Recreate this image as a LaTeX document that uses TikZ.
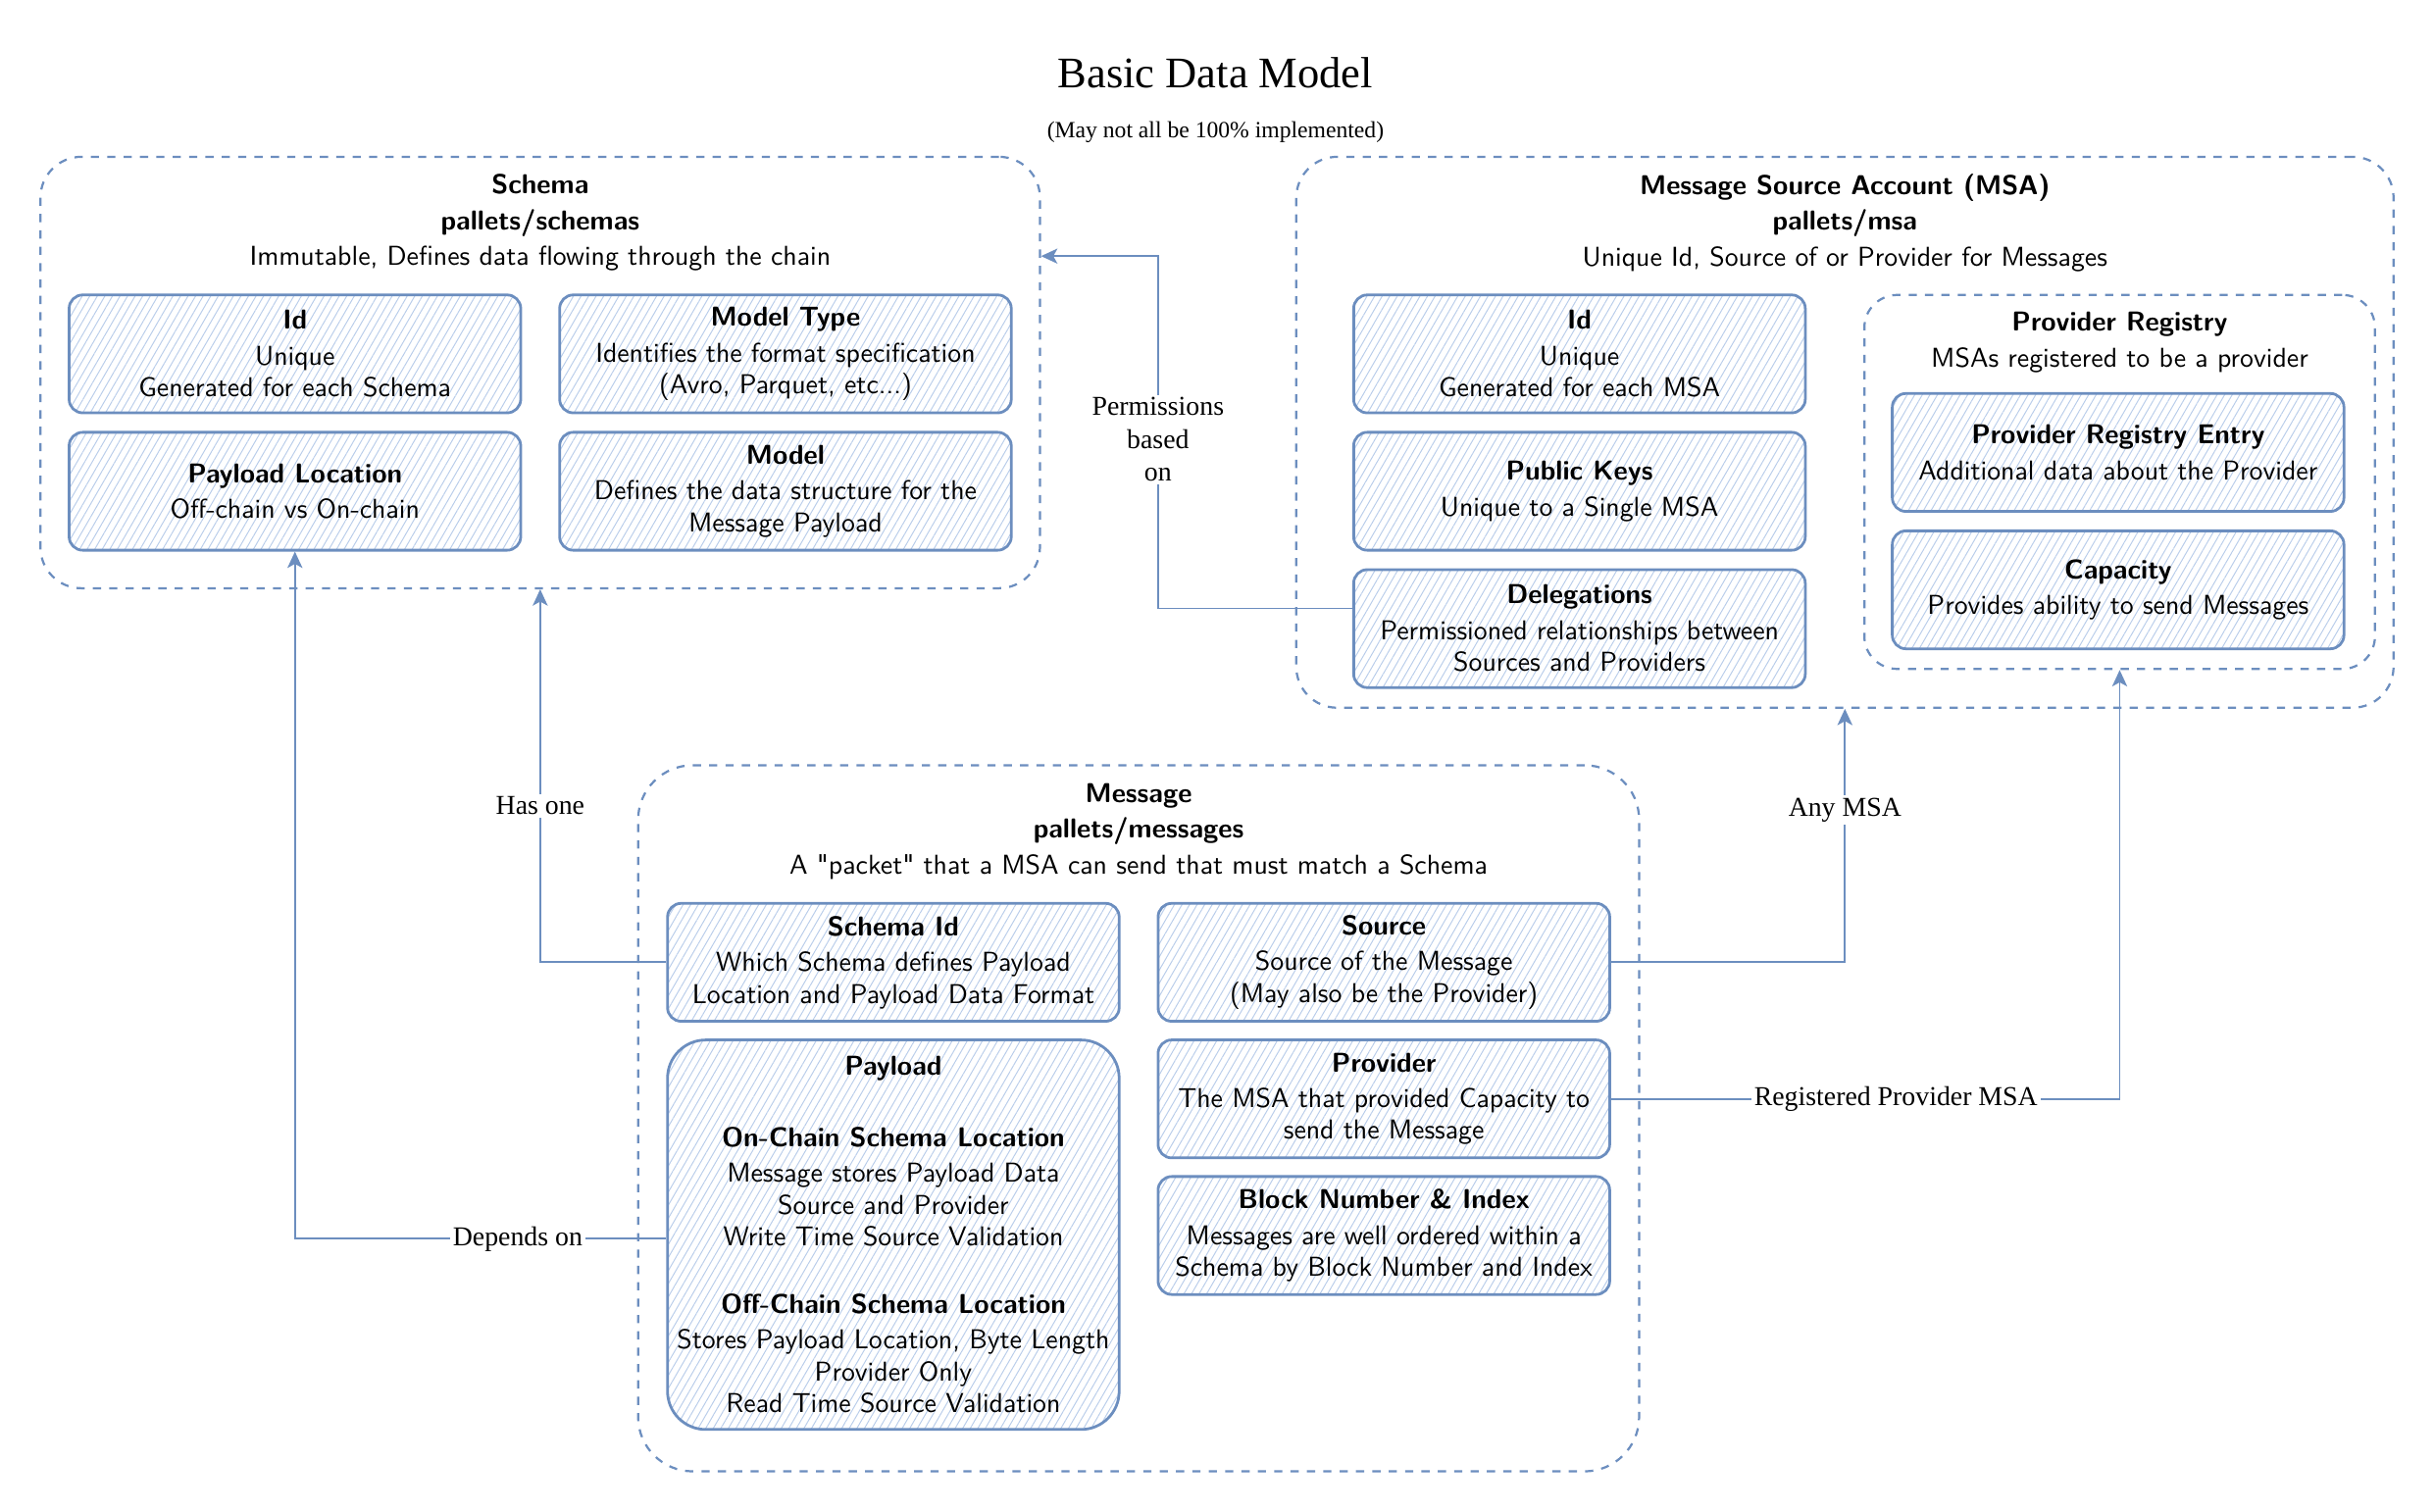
\documentclass[tikz,border=0pt]{standalone}
\usepackage{fontspec}
\setmainfont{Liberation Serif}
\usepackage{tikz}
\usetikzlibrary{arrows.meta,patterns.meta,positioning,calc}
\definecolor{drawblue}{HTML}{6C8EBF}
\definecolor{hatchblue}{HTML}{B9CDEA}

\begin{document}
\begin{tikzpicture}[x=0.02cm,y=-0.02cm,
    card/.style={draw=drawblue,line width=1pt,rounded corners=5pt,
      pattern={Lines[angle=60,distance=2.4pt,line width=0.35pt]},pattern color=hatchblue,
      minimum width=5.82cm,minimum height=1.52cm,inner sep=0pt,align=center,
      font=\sffamily\fontsize{10}{11.7}\selectfont},
    group/.style={draw=drawblue,dashed,line width=0.8pt,rounded corners=15pt,inner sep=0pt},
    head/.style={align=center,font=\sffamily\fontsize{10}{11.7}\selectfont},
    conn/.style={draw=drawblue,line width=0.7pt,-{Stealth[length=6pt,width=5.5pt,inset=1.5pt]}},
    lbl/.style={fill=white,inner sep=1pt,align=center,font=\fontsize{10}{12}\selectfont}]
  \useasboundingbox (0,0) rectangle (1568,974);

  \node (title) at (783,47) {\fontsize{16}{19}\selectfont Basic Data Model};
  \node (subtitle) at (783,85) {\fontsize{8.5}{10}\selectfont (May not all be 100\% implemented)};

  % Schema pallet
  \node[group,minimum width=12.88cm,minimum height=5.56cm] (schema) at (348,240) {};
  \node[head] (schemahead) at (348,143.5) {\textbf{Schema}\\[1.4pt]\textbf{pallets/schemas}\\[1.4pt]Immutable, Defines data flowing through the chain};
  \node[card] (sid) at (190,228) {\textbf{Id}\\[1.4pt]Unique\\Generated for each Schema};
  \node[card] (mtype) at (506,228) {\textbf{Model Type}\\[1.4pt]Identifies the format specification\\(Avro, Parquet, etc...)};
  \node[card] (payloc) at (190,316.5) {\textbf{Payload Location}\\[1.4pt]Off-chain vs On-chain};
  \node[card] (model) at (506,316.5) {\textbf{Model}\\[1.4pt]Defines the data structure for the\\Message Payload};

  % MSA pallet
  \node[group,minimum width=14.14cm,minimum height=7.1cm] (msa) at (1188.5,278.5) {};
  \node[head] (msahead) at (1188.5,143.5) {\textbf{Message Source Account (MSA)}\\[1.4pt]\textbf{pallets/msa}\\[1.4pt]Unique Id, Source of or Provider for Messages};
  \node[card] (mid) at (1017.5,228) {\textbf{Id}\\[1.4pt]Unique\\Generated for each MSA};
  \node[card] (pkeys) at (1017.5,316.5) {\textbf{Public Keys}\\[1.4pt]Unique to a Single MSA};
  \node[card] (deleg) at (1017.5,405) {\textbf{Delegations}\\[1.4pt]Permissioned relationships between\\Sources and Providers};
  \node[group,rounded corners=12pt,minimum width=6.58cm,minimum height=4.82cm] (provreg) at (1365.5,310.5) {};
  \node[head] (provreghead) at (1365.5,220.5) {\textbf{Provider Registry}\\[1.4pt]MSAs registered to be a provider};
  \node[card] (preentry) at (1364.5,291.5) {\textbf{Provider Registry Entry}\\[1.4pt]Additional data about the Provider};
  \node[card] (capacity) at (1364.5,380) {\textbf{Capacity}\\[1.4pt]Provides ability to send Messages};

  % Message pallet
  \node[group,rounded corners=20pt,minimum width=12.9cm,minimum height=9.1cm] (msg) at (733.5,720.5) {};
  \node[head] (msghead) at (733.5,535.5) {\textbf{Message}\\[1.4pt]\textbf{pallets/messages}\\[1.4pt]A \textquotedbl packet\textquotedbl{} that a MSA can send that must match a Schema};
  \node[card] (schemaid) at (575.5,620) {\textbf{Schema Id}\\[1.4pt]Which Schema defines Payload\\Location and Payload Data Format};
  \node[card] (source) at (891.5,620) {\textbf{Source}\\[1.4pt]Source of the Message\\(May also be the Provider)};
  \node[card,rounded corners=14pt,minimum height=5.02cm] (payload) at (575.5,795.5) {\textbf{Payload}\\[14.5pt]\textbf{On-Chain Schema Location}\\[1.4pt]Message stores Payload Data\\Source and Provider\\Write Time Source Validation\\[12.8pt]\textbf{Off-Chain Schema Location}\\[1.4pt]Stores Payload Location, Byte Length\\Provider Only\\Read Time Source Validation};
  \node[card] (provider) at (891.5,708) {\textbf{Provider}\\[1.4pt]The MSA that provided Capacity to\\send the Message};
  \node[card] (blocknum) at (891.5,796) {\textbf{Block Number \& Index}\\[1.4pt]Messages are well ordered within a\\Schema by Block Number and Index};

  % links
  \coordinate (permbend) at (746,165);
  \coordinate (schemain) at (schema.east |- permbend);
  \draw[conn] (schemaid.west) -| node[lbl,pos=0.71]{Has one} (schema.south);
  \draw[conn] ([yshift=-1.5pt]payload.west) -| node[lbl,pos=0.2]{Depends on} (payloc.south);
  \draw[conn] ([yshift=7.4pt]deleg.west) -| node[lbl,pos=0.74]{Permissions\\based\\on} (permbend) -- (schemain);
  \draw[conn] (source.east) -| node[lbl,pos=0.8]{Any MSA} (msa.south);
  \draw[conn] (provider.east) -| node[lbl,pos=0.28]{Registered Provider MSA} (provreg.south);
\end{tikzpicture}
\end{document}
